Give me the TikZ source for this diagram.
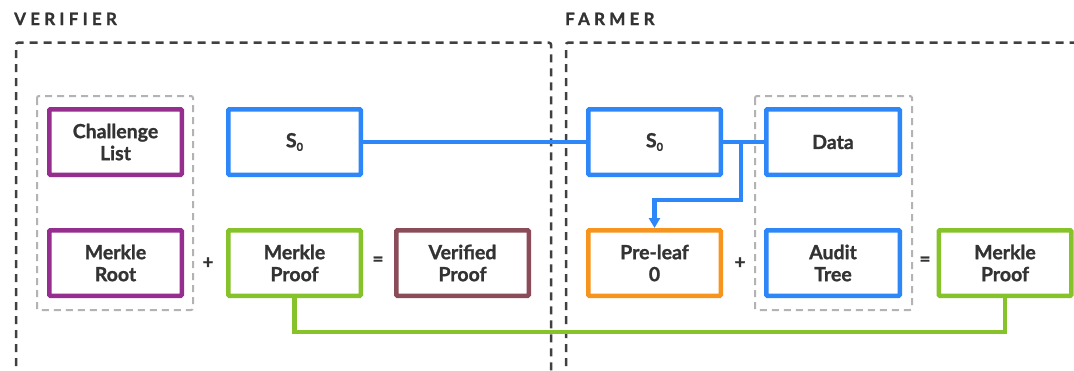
\documentclass[tikz,border=0pt]{standalone}
\usepackage{fontspec}
\setmainfont{Lato}[BoldFeatures={FakeBold=1.2}]
\usetikzlibrary{arrows.meta}
\definecolor{cpurple}{HTML}{952E8F}
\definecolor{cblue}{HTML}{2D87F9}
\definecolor{cgreen}{HTML}{86C32A}
\definecolor{corange}{HTML}{F7941E}
\definecolor{cmaroon}{HTML}{8A4C58}
\definecolor{ctext}{HTML}{333333}
\definecolor{cdash}{HTML}{404040}
\definecolor{cgray}{HTML}{B3B3B3}
\tikzset{
  box/.style={draw, line width=4.5pt, rounded corners=1pt, minimum width=132.5pt,
    minimum height=65.5pt, inner sep=0pt, align=center, text=ctext,
    font=\bfseries\fontsize{19.5}{22}\selectfont},
  outerdash/.style={draw=cdash, line width=2.5pt, dash pattern=on 8pt off 6pt, rounded corners=2pt},
  graydash/.style={draw=cgray, line width=2pt, dash pattern=on 7pt off 5pt, rounded corners=2pt},
  conn/.style={line width=4.2pt},
  op/.style={text=ctext, font=\bfseries\fontsize{19}{19}\selectfont, inner sep=0pt},
  title/.style={text=ctext, anchor=base west, inner sep=0pt,
    font=\bfseries\fontsize{17}{17}\selectfont\addfontfeature{LetterSpace=25}}
}
\newcommand{\Szero}{S\raisebox{-0.35ex}{\fontsize{11}{11}\selectfont 0}}
\begin{document}
\begin{tikzpicture}[x=1pt, y=-1pt]
\useasboundingbox (0,0) rectangle (1074,370);
\fill[white] (0,0) rectangle (1074,370);
\clip (0,0) rectangle (1074,370);

% titles
\node[title] (tv) at (14,25) {VERIFIER};
\node[title] (tf) at (565,25) {FARMER};

% outer dashed regions
\draw[outerdash] (16,380) -- (16,42.7) -- (551,42.7) -- (551,380);
\draw[outerdash] (566,380) -- (566,42.7) -- (1090,42.7);

% gray dashed groups
\draw[graydash] (37,96) rectangle (193,310);
\draw[graydash] (755,96) rectangle (912,310);

% boxes
\node[box, draw=cpurple] (cl) at (115.5,142) {Challenge\\List};
\node[box, draw=cblue] (sv) at (294.5,142) {\Szero};
\node[box, draw=cblue] (sf) at (654.5,142) {\Szero};
\node[box, draw=cblue, minimum width=133.5pt] (data) at (833,142) {Data};
\node[box, draw=cpurple] (mr) at (115.5,263) {Merkle\\Root};
\node[box, draw=cgreen] (mpv) at (294.5,263) {Merkle\\Proof};
\node[box, draw=cmaroon] (vp) at (462.5,263) {Verified\\Proof};
\node[box, draw=corange] (pl) at (654.5,263) {Pre-leaf\\0};
\node[box, draw=cblue, minimum width=133.5pt] (at) at (833,263) {Audit\\Tree};
\node[box, draw=cgreen] (mpf) at (1005,263) {Merkle\\Proof};

% operators
\node[op] (p1) at (208,263) {+};
\node[op] (e1) at (378,261) {=};
\node[op] (p2) at (740,263) {+};
\node[op] (e2) at (925,261) {=};

% blue connectors
\draw[conn, draw=cblue] (sv.east) -- (sf.west);
\draw[conn, draw=cblue] (sf.east) -- (data.west);
\coordinate (br) at (741,142);
\coordinate (bend) at (741,200);
\draw[conn, draw=cblue, line join=miter, -{Triangle[width=11pt,length=10pt]}] (br) -- (bend) -| (pl.north);

% green connector
\coordinate (gmid) at (650,332);
\draw[conn, draw=cgreen, line join=miter] (mpv.south) |- (gmid) -| (mpf.south);
\end{tikzpicture}
\end{document}
